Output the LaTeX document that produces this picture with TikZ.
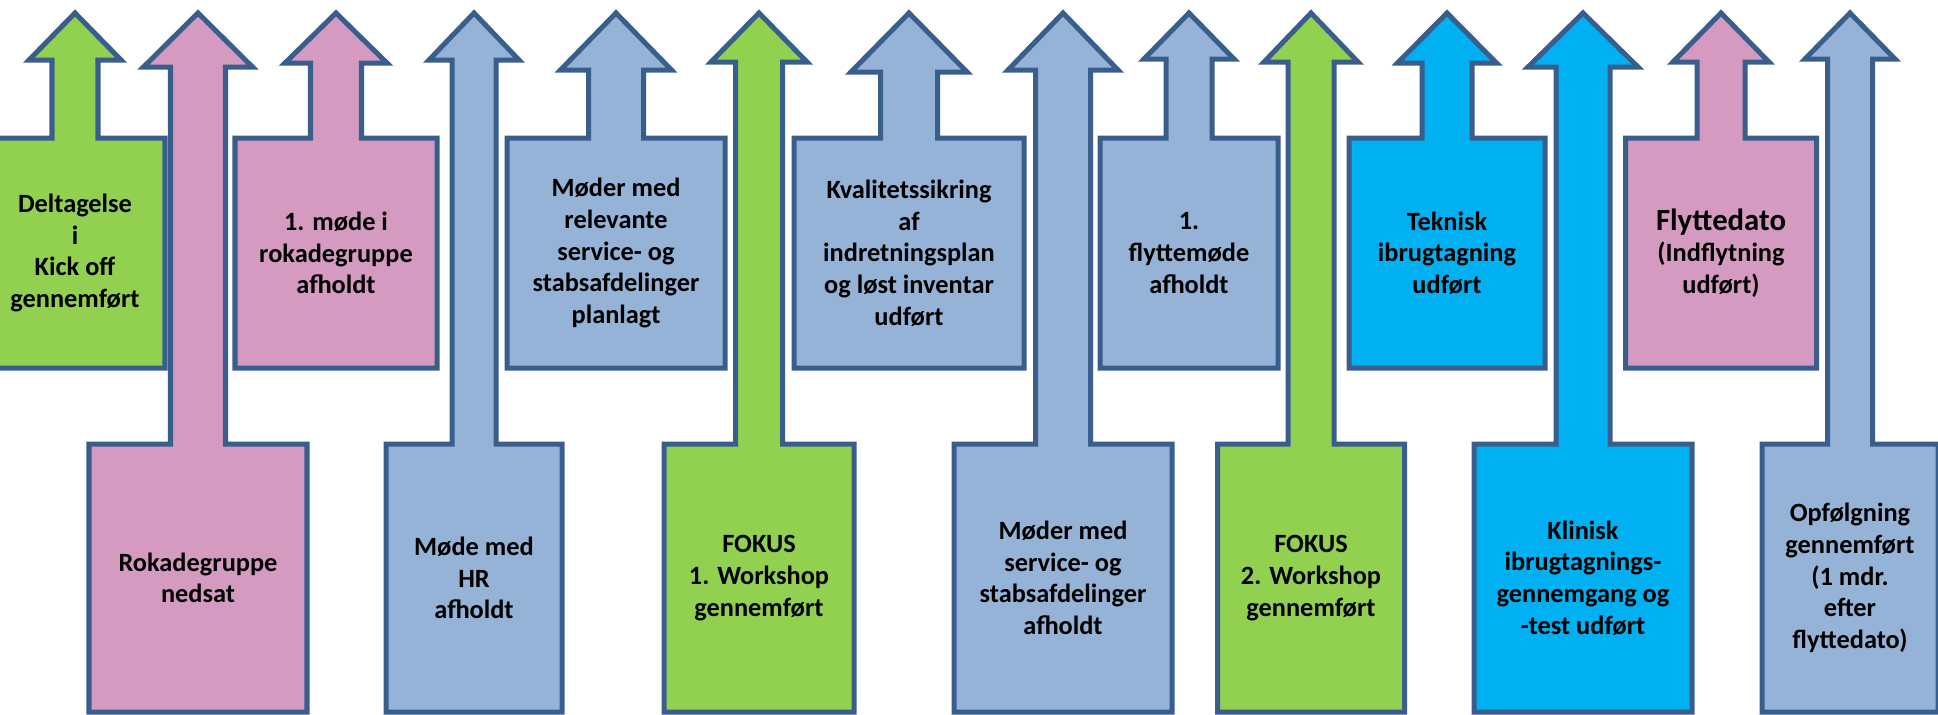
\documentclass[tikz,border=0pt]{standalone}
\usepackage{fontspec}
\setmainfont{Carlito}
\usepackage{tikz}

\definecolor{rim}{HTML}{3A5E8C}
\definecolor{grn}{HTML}{92D050}
\definecolor{pnk}{HTML}{D49AC0}
\definecolor{lblue}{HTML}{95B3D7}
\definecolor{cyn}{HTML}{00B0F0}

\tikzset{
  callout/.style={draw=rim, line width=2.85pt},
  txt/.style={align=center, text=black, inner sep=0pt,
    font=\bfseries\fontsize{15}{18}\selectfont}
}

% up arrow callout: #1 name, #2 x, #3 box top, #4 box bottom, #5 box half width,
% #6 shaft half width, #7 head half width, #8 head base, #9 fill
\newcommand{\upcallout}[9]{
  \coordinate (#1_c) at (#2,{(#3+#4)/2});
  \draw[callout, fill=#9] ({#2-#5},#4) -- ({#2-#5},#3) -- ({#2-#6},#3) -- ({#2-#6},#8)
    -- ({#2-#7},#8) -- (#2,13) -- ({#2+#7},#8) -- ({#2+#6},#8) -- ({#2+#6},#3)
    -- ({#2+#5},#3) -- ({#2+#5},#4) -- cycle;
}

\begin{document}
\begin{tikzpicture}[x=0.02cm,y=-0.02cm]
\clip (0,0) rectangle (1938,714);

%top row
\upcallout{kick}{75}{138}{368}{90}{23}{46}{60}{grn}
\upcallout{moede}{336}{138}{368}{101}{25.5}{51}{63}{pnk}
\upcallout{plan}{616}{138}{368}{109}{27.5}{55.5}{70}{lblue}
\upcallout{kval}{909}{138}{368}{115}{28.5}{58}{72}{lblue}
\upcallout{flyt}{1189}{138}{368}{89}{23}{45}{59}{lblue}
\upcallout{tek}{1447}{138}{368}{98}{25}{49.5}{63}{cyn}
\upcallout{dato}{1721}{138}{368}{95.5}{24}{48}{62}{pnk}

%bottom row
\upcallout{roka}{198}{444}{712}{109}{27.5}{54.5}{67}{pnk}
\upcallout{hr}{474}{444}{712}{88}{22}{45}{60}{lblue}
\upcallout{ws_a}{759}{444}{712}{95}{23.5}{48}{62}{grn}
\upcallout{afh}{1063}{444}{712}{109}{27.5}{55}{70}{lblue}
\upcallout{ws_b}{1311}{444}{712}{93.5}{23}{47}{62}{grn}
\upcallout{klin}{1583}{444}{712}{109}{27}{55}{67}{cyn}
\upcallout{opf}{1850}{444}{712}{88}{22.5}{45}{59}{lblue}

\node[txt] (t_kick) at (kick_c) {Deltagelse\\i\\Kick off\\gennemført};
\node[txt] (t_moede) at (moede_c) {1. møde i\\rokadegruppe\\afholdt};
\node[txt] (t_plan) at (plan_c) {Møder med\\relevante\\service- og\\stabsafdelinger\\planlagt};
\node[txt] (t_kval) at (kval_c) {Kvalitetssikring\\af\\indretningsplan\\og løst inventar\\udført};
\node[txt] (t_flyt) at (flyt_c) {1.\\flyttemøde\\afholdt};
\node[txt] (t_tek) at (tek_c) {Teknisk\\ibrugtagning\\udført};
\node[txt] (t_dato) at (dato_c) {{\fontsize{17.5}{21}\selectfont Flyttedato}\\(Indflytning\\udført)};

\node[txt] (t_roka) at (roka_c) {Rokadegruppe\\nedsat};
\node[txt] (t_hr) at (hr_c) {Møde med\\HR\\afholdt};
\node[txt] (t_ws_a) at (ws_a_c) {FOKUS\\1. Workshop\\gennemført};
\node[txt] (t_afh) at (afh_c) {Møder med\\service- og\\stabsafdelinger\\afholdt};
\node[txt] (t_ws_b) at (ws_b_c) {FOKUS\\2. Workshop\\gennemført};
\node[txt] (t_klin) at (klin_c) {Klinisk\\ibrugtagnings-\\gennemgang og\\-test udført};
\node[txt] (t_opf) at (opf_c) {Opfølgning\\gennemført\\(1 mdr.\\efter\\flyttedato)};

\end{tikzpicture}
\end{document}
